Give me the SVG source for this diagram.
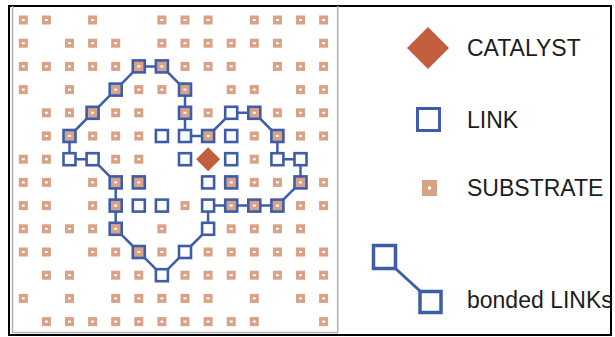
<svg xmlns="http://www.w3.org/2000/svg" xmlns:xlink="http://www.w3.org/1999/xlink" width="615" height="337" viewBox="0 0 615 337">
<style>
.txt{font-family:"Liberation Sans",Arial,sans-serif;font-size:23px;fill:#1c1c1c}
.bond{fill:none;stroke:#3d5caa;stroke-width:2.5;stroke-linejoin:round}
.frame{fill:none;stroke:#000;stroke-width:2}
.inner{fill:none;stroke:#b0b0b0;stroke-width:1.5}
</style>
<defs>
<g id="sub"><rect x="-4.5" y="-4.5" width="9" height="9" fill="#d9a286"/><rect x="-1.5" y="-1" width="3" height="2" fill="#fff"/></g>
<rect id="lk" x="-6" y="-6" width="12" height="12" fill="#fff" stroke="#3d5caa" stroke-width="2.6"/>
<g id="lkb"><rect x="-6" y="-6" width="12" height="12" fill="#d9a286" stroke="#3d5caa" stroke-width="2.6"/><rect x="-1.5" y="-1" width="3" height="2" fill="#fff"/></g>
</defs>
<rect width="615" height="337" fill="#fff"/>
<g id="frame">
<path class="frame" d="M9,6 H611 V335 H9 Z"/>
<path class="inner" d="M12.5,6 V332.5 H337.7 V6"/>
</g>
<g id="connectors">
<path class="bond" d="M138.8,66.4 L161.9,66.4 L185,89.6 L185,136 L208.1,136 L231.2,112.8 L254.3,112.8 L277.4,136 L277.4,159.2 L300.5,159.2 L300.5,182.4 L277.4,205.6 L208.1,205.6 L208.1,228.8 L185,252 L161.9,275.2 L138.8,252 L115.7,228.8 L115.7,182.4 L92.6,159.2 L69.5,159.2 L69.5,136 L92.6,112.8 L115.7,89.6 Z"/>
</g>
<g id="substrates">
<use href="#sub" x="23.3" y="20"/><use href="#sub" x="46.4" y="20"/><use href="#sub" x="92.6" y="20"/><use href="#sub" x="161.9" y="20"/><use href="#sub" x="185" y="20"/><use href="#sub" x="208.1" y="20"/><use href="#sub" x="254.3" y="20"/><use href="#sub" x="277.4" y="20"/><use href="#sub" x="300.5" y="20"/><use href="#sub" x="323.6" y="20"/>
<use href="#sub" x="23.3" y="43.2"/><use href="#sub" x="69.5" y="43.2"/><use href="#sub" x="92.6" y="43.2"/><use href="#sub" x="115.7" y="43.2"/><use href="#sub" x="161.9" y="43.2"/><use href="#sub" x="185" y="43.2"/><use href="#sub" x="208.1" y="43.2"/><use href="#sub" x="231.2" y="43.2"/><use href="#sub" x="254.3" y="43.2"/><use href="#sub" x="277.4" y="43.2"/><use href="#sub" x="323.6" y="43.2"/>
<use href="#sub" x="23.3" y="66.4"/><use href="#sub" x="46.4" y="66.4"/><use href="#sub" x="69.5" y="66.4"/><use href="#sub" x="92.6" y="66.4"/><use href="#sub" x="115.7" y="66.4"/><use href="#sub" x="185" y="66.4"/><use href="#sub" x="208.1" y="66.4"/><use href="#sub" x="231.2" y="66.4"/><use href="#sub" x="277.4" y="66.4"/><use href="#sub" x="300.5" y="66.4"/><use href="#sub" x="323.6" y="66.4"/>
<use href="#sub" x="23.3" y="89.6"/><use href="#sub" x="69.5" y="89.6"/><use href="#sub" x="138.8" y="89.6"/><use href="#sub" x="161.9" y="89.6"/><use href="#sub" x="231.2" y="89.6"/><use href="#sub" x="254.3" y="89.6"/><use href="#sub" x="300.5" y="89.6"/><use href="#sub" x="323.6" y="89.6"/>
<use href="#sub" x="46.4" y="112.8"/><use href="#sub" x="69.5" y="112.8"/><use href="#sub" x="115.7" y="112.8"/><use href="#sub" x="138.8" y="112.8"/><use href="#sub" x="208.1" y="112.8"/><use href="#sub" x="277.4" y="112.8"/><use href="#sub" x="300.5" y="112.8"/><use href="#sub" x="323.6" y="112.8"/>
<use href="#sub" x="46.4" y="136"/><use href="#sub" x="92.6" y="136"/><use href="#sub" x="115.7" y="136"/><use href="#sub" x="138.8" y="136"/><use href="#sub" x="254.3" y="136"/><use href="#sub" x="300.5" y="136"/><use href="#sub" x="323.6" y="136"/>
<use href="#sub" x="23.3" y="159.2"/><use href="#sub" x="46.4" y="159.2"/><use href="#sub" x="115.7" y="159.2"/><use href="#sub" x="138.8" y="159.2"/><use href="#sub" x="254.3" y="159.2"/>
<use href="#sub" x="23.3" y="182.4"/><use href="#sub" x="46.4" y="182.4"/><use href="#sub" x="92.6" y="182.4"/><use href="#sub" x="254.3" y="182.4"/><use href="#sub" x="277.4" y="182.4"/><use href="#sub" x="323.6" y="182.4"/>
<use href="#sub" x="23.3" y="205.6"/><use href="#sub" x="46.4" y="205.6"/><use href="#sub" x="92.6" y="205.6"/><use href="#sub" x="185" y="205.6"/><use href="#sub" x="300.5" y="205.6"/><use href="#sub" x="323.6" y="205.6"/>
<use href="#sub" x="23.3" y="228.8"/><use href="#sub" x="46.4" y="228.8"/><use href="#sub" x="69.5" y="228.8"/><use href="#sub" x="92.6" y="228.8"/><use href="#sub" x="161.9" y="228.8"/><use href="#sub" x="231.2" y="228.8"/><use href="#sub" x="254.3" y="228.8"/><use href="#sub" x="277.4" y="228.8"/><use href="#sub" x="300.5" y="228.8"/>
<use href="#sub" x="23.3" y="252"/><use href="#sub" x="46.4" y="252"/><use href="#sub" x="92.6" y="252"/><use href="#sub" x="115.7" y="252"/><use href="#sub" x="161.9" y="252"/><use href="#sub" x="208.1" y="252"/><use href="#sub" x="231.2" y="252"/><use href="#sub" x="254.3" y="252"/><use href="#sub" x="277.4" y="252"/><use href="#sub" x="300.5" y="252"/><use href="#sub" x="323.6" y="252"/>
<use href="#sub" x="46.4" y="275.2"/><use href="#sub" x="69.5" y="275.2"/><use href="#sub" x="115.7" y="275.2"/><use href="#sub" x="138.8" y="275.2"/><use href="#sub" x="185" y="275.2"/><use href="#sub" x="208.1" y="275.2"/><use href="#sub" x="231.2" y="275.2"/><use href="#sub" x="254.3" y="275.2"/><use href="#sub" x="277.4" y="275.2"/><use href="#sub" x="300.5" y="275.2"/><use href="#sub" x="323.6" y="275.2"/>
<use href="#sub" x="23.3" y="298.4"/><use href="#sub" x="69.5" y="298.4"/><use href="#sub" x="115.7" y="298.4"/><use href="#sub" x="138.8" y="298.4"/><use href="#sub" x="161.9" y="298.4"/><use href="#sub" x="185" y="298.4"/><use href="#sub" x="208.1" y="298.4"/><use href="#sub" x="254.3" y="298.4"/><use href="#sub" x="300.5" y="298.4"/><use href="#sub" x="323.6" y="298.4"/>
<use href="#sub" x="46.4" y="321.6"/><use href="#sub" x="69.5" y="321.6"/><use href="#sub" x="92.6" y="321.6"/><use href="#sub" x="115.7" y="321.6"/><use href="#sub" x="138.8" y="321.6"/><use href="#sub" x="161.9" y="321.6"/><use href="#sub" x="185" y="321.6"/><use href="#sub" x="208.1" y="321.6"/><use href="#sub" x="231.2" y="321.6"/><use href="#sub" x="254.3" y="321.6"/><use href="#sub" x="323.6" y="321.6"/>
</g>
<g id="links">
<g id="link-r2c5"><use href="#lkb" x="138.8" y="66.4"/></g>
<g id="link-r2c6"><use href="#lkb" x="161.9" y="66.4"/></g>
<g id="link-r3c4"><use href="#lkb" x="115.7" y="89.6"/></g>
<g id="link-r3c7"><use href="#lkb" x="185" y="89.6"/></g>
<g id="link-r4c3"><use href="#lkb" x="92.6" y="112.8"/></g>
<g id="link-r4c7"><use href="#lkb" x="185" y="112.8"/></g>
<g id="link-r4c9"><use href="#lk" x="231.2" y="112.8"/></g>
<g id="link-r4c10"><use href="#lkb" x="254.3" y="112.8"/></g>
<g id="link-r5c2"><use href="#lkb" x="69.5" y="136"/></g>
<g id="link-r5c6"><use href="#lk" x="161.9" y="136"/></g>
<g id="link-r5c7"><use href="#lk" x="185" y="136"/></g>
<g id="link-r5c8"><use href="#lkb" x="208.1" y="136"/></g>
<g id="link-r5c9"><use href="#lk" x="231.2" y="136"/></g>
<g id="link-r5c11"><use href="#lkb" x="277.4" y="136"/></g>
<g id="link-r6c2"><use href="#lk" x="69.5" y="159.2"/></g>
<g id="link-r6c3"><use href="#lk" x="92.6" y="159.2"/></g>
<g id="link-r6c7"><use href="#lk" x="185" y="159.2"/></g>
<g id="link-r6c9"><use href="#lk" x="231.2" y="159.2"/></g>
<g id="link-r6c11"><use href="#lk" x="277.4" y="159.2"/></g>
<g id="link-r6c12"><use href="#lk" x="300.5" y="159.2"/></g>
<g id="link-r7c4"><use href="#lkb" x="115.7" y="182.4"/></g>
<g id="link-r7c5"><use href="#lkb" x="138.8" y="182.4"/></g>
<g id="link-r7c8"><use href="#lk" x="208.1" y="182.4"/></g>
<g id="link-r7c9"><use href="#lkb" x="231.2" y="182.4"/></g>
<g id="link-r7c12"><use href="#lkb" x="300.5" y="182.4"/></g>
<g id="link-r8c4"><use href="#lkb" x="115.7" y="205.6"/></g>
<g id="link-r8c5"><use href="#lk" x="138.8" y="205.6"/></g>
<g id="link-r8c6"><use href="#lk" x="161.9" y="205.6"/></g>
<g id="link-r8c8"><use href="#lk" x="208.1" y="205.6"/></g>
<g id="link-r8c9"><use href="#lkb" x="231.2" y="205.6"/></g>
<g id="link-r8c10"><use href="#lkb" x="254.3" y="205.6"/></g>
<g id="link-r8c11"><use href="#lkb" x="277.4" y="205.6"/></g>
<g id="link-r9c4"><use href="#lkb" x="115.7" y="228.8"/></g>
<g id="link-r9c8"><use href="#lk" x="208.1" y="228.8"/></g>
<g id="link-r10c5"><use href="#lkb" x="138.8" y="252"/></g>
<g id="link-r10c7"><use href="#lk" x="185" y="252"/></g>
<g id="link-r11c6"><use href="#lk" x="161.9" y="275.2"/></g>
</g>
<g id="catalyst"><path d="M208.1,147.2 L220.1,159.2 L208.1,171.2 L196.1,159.2 Z" fill="#c25e3c"/></g>
<g id="legend">
<g id="legend-catalyst"><path d="M428,27 L449,48 L428,69 L407,48 Z" fill="#c25e3c"/><text class="txt" x="467" y="55.5">CATALYST</text></g>
<g id="legend-link"><rect x="417.5" y="108.5" width="22" height="22" fill="#fff" stroke="#3d5caa" stroke-width="3"/><text class="txt" x="467" y="128">LINK</text></g>
<g id="legend-substrate"><rect x="422" y="180" width="15" height="16" fill="#d9a286"/><rect x="428" y="186.5" width="3" height="3" fill="#fff"/><text class="txt" x="467" y="195.5">SUBSTRATE</text></g>
<g id="legend-bonded"><line x1="396" y1="269" x2="420" y2="291" stroke="#3d5caa" stroke-width="3"/><rect x="373.5" y="245.5" width="22" height="23" fill="#fff" stroke="#3d5caa" stroke-width="3.5"/><rect x="420" y="291.5" width="21" height="21" fill="#fff" stroke="#3d5caa" stroke-width="3.5"/><text class="txt" x="467" y="308">bonded LINKs</text></g>
</g>
</svg>
